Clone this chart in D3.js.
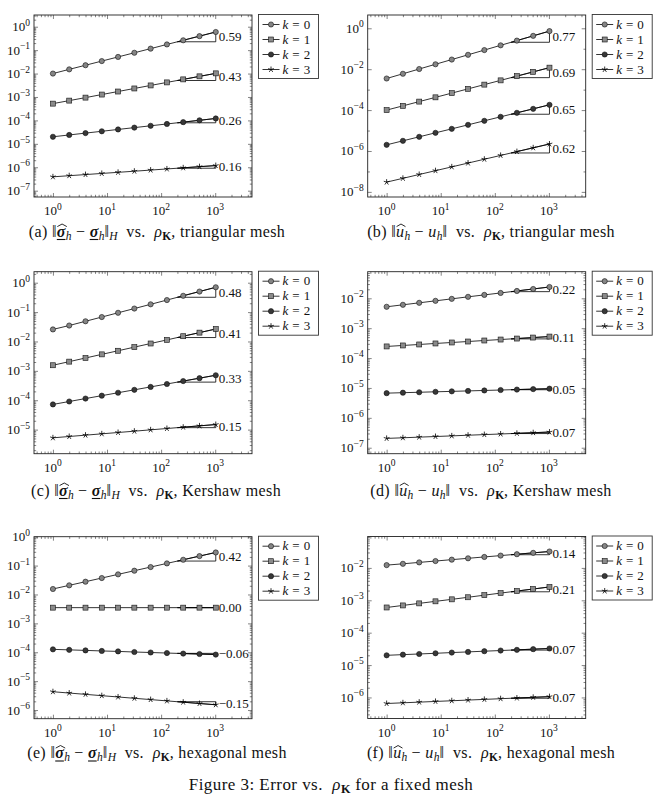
<!DOCTYPE html>
<html><head><meta charset="utf-8">
<script src="https://cdn.jsdelivr.net/npm/d3@7/dist/d3.min.js"></script>
<style>
body{margin:0;background:#fff}
svg{display:block}
text{font-family:"Liberation Serif","Times New Roman",serif;fill:#111}
</style>
</head><body>
<svg id="chart" width="660" height="798"></svg>
<script>
// ---------------- data ----------------
const rho = [1, 2, 4, 8, 16, 32, 64, 128, 256, 512, 1024];
const kLabels = ["0", "1", "2", "3"];
const xTickExps = [0, 1, 2, 3];

// (a) sigma error, triangular mesh
const A0 = [0.0100, 0.0151, 0.0227, 0.0341, 0.0513, 0.0772, 0.116, 0.175, 0.263, 0.396, 0.596];
const A1 = [5.2e-4, 7.0e-4, 9.4e-4, 1.27e-3, 1.71e-3, 2.31e-3, 3.11e-3, 4.19e-3, 5.64e-3, 7.6e-3, 1.02e-2];
const A2 = [2.0e-5, 2.39e-5, 2.87e-5, 3.43e-5, 4.11e-5, 4.92e-5, 5.89e-5, 7.05e-5, 8.44e-5, 1.01e-4, 1.21e-4];
const A3 = [3.9e-7, 4.36e-7, 4.87e-7, 5.44e-7, 6.07e-7, 6.78e-7, 7.57e-7, 8.46e-7, 9.45e-7, 1.06e-6, 1.18e-6];
const slopesA = [0.59, 0.43, 0.26, 0.16];
const yTicksA = [0, -1, -2, -3, -4, -5, -6, -7];

// (b) u error, triangular mesh
const B0 = [3.5e-3, 5.97e-3, 1.02e-2, 1.74e-2, 2.96e-2, 5.05e-2, 8.6e-2, 0.147, 0.250, 0.427, 0.728];
const B1 = [1.0e-4, 1.61e-4, 2.60e-4, 4.2e-4, 6.77e-4, 1.09e-3, 1.76e-3, 2.84e-3, 4.59e-3, 7.4e-3, 1.19e-2];
const B2 = [2.0e-6, 3.14e-6, 4.93e-6, 7.73e-6, 1.21e-5, 1.9e-5, 2.99e-5, 4.69e-5, 7.36e-5, 1.15e-4, 1.81e-4];
const B3 = [3.0e-8, 4.61e-8, 7.09e-8, 1.09e-7, 1.67e-7, 2.57e-7, 3.95e-7, 6.07e-7, 9.33e-7, 1.43e-6, 2.2e-6];
const slopesB = [0.77, 0.69, 0.65, 0.62];
const yTicksB = [0, -2, -4, -6, -8];

// (c) sigma error, Kershaw mesh
const C0 = [0.0257, 0.0349, 0.0487, 0.0679, 0.0947, 0.132, 0.184, 0.257, 0.359, 0.50, 0.70];
const C1 = [1.55e-3, 2.06e-3, 2.74e-3, 3.64e-3, 4.83e-3, 6.42e-3, 8.53e-3, 1.13e-2, 1.51e-2, 2.0e-2, 2.66e-2];
const C2 = [7.2e-5, 9.05e-5, 1.14e-4, 1.43e-4, 1.8e-4, 2.26e-4, 2.84e-4, 3.57e-4, 4.49e-4, 5.64e-4, 7.09e-4];
const C3 = [5.25e-6, 5.83e-6, 6.47e-6, 7.18e-6, 7.97e-6, 8.84e-6, 9.82e-6, 1.09e-5, 1.21e-5, 1.34e-5, 1.49e-5];
const slopesC = [0.48, 0.41, 0.33, 0.15];
const yTicksC = [0, -1, -2, -3, -4, -5];

// (d) u error, Kershaw mesh
const D0 = [5.2e-3, 6.06e-3, 7.06e-3, 8.22e-3, 9.58e-3, 1.12e-2, 1.3e-2, 1.51e-2, 1.76e-2, 2.05e-2, 2.39e-2];
const D1 = [2.45e-4, 2.64e-4, 2.85e-4, 3.08e-4, 3.32e-4, 3.58e-4, 3.87e-4, 4.17e-4, 4.5e-4, 4.86e-4, 5.24e-4];
const D2 = [6.7e-6, 6.94e-6, 7.18e-6, 7.43e-6, 7.69e-6, 7.96e-6, 8.24e-6, 8.53e-6, 8.83e-6, 9.14e-6, 9.46e-6];
const D3 = [2.05e-7, 2.15e-7, 2.26e-7, 2.37e-7, 2.49e-7, 2.62e-7, 2.75e-7, 2.88e-7, 3.03e-7, 3.18e-7, 3.34e-7];
const slopesD = [0.22, 0.11, 0.05, 0.07];
const yTicksD = [-2, -3, -4, -5, -6, -7];

// (e) sigma error, hexagonal mesh
const E0 = [1.55e-2, 2.07e-2, 2.77e-2, 3.71e-2, 4.97e-2, 6.65e-2, 8.9e-2, 0.119, 0.159, 0.213, 0.285];
const E1 = [3.5e-3, 3.5e-3, 3.5e-3, 3.5e-3, 3.5e-3, 3.5e-3, 3.5e-3, 3.5e-3, 3.5e-3, 3.5e-3, 3.5e-3];
const E2 = [1.26e-4, 1.21e-4, 1.16e-4, 1.11e-4, 1.07e-4, 1.02e-4, 9.8e-5, 9.4e-5, 9.0e-5, 8.7e-5, 8.3e-5];
const E3 = [4.3e-6, 3.87e-6, 3.49e-6, 3.14e-6, 2.83e-6, 2.55e-6, 2.3e-6, 2.07e-6, 1.87e-6, 1.68e-6, 1.52e-6];
const slopesE = [0.42, 0.00, -0.06, -0.15];
const yTicksE = [0, -1, -2, -3, -4, -5, -6];

// (f) u error, hexagonal mesh
const F0 = [1.22e-2, 1.34e-2, 1.48e-2, 1.63e-2, 1.8e-2, 1.98e-2, 2.18e-2, 2.4e-2, 2.65e-2, 2.92e-2, 3.21e-2];
const F1 = [6.0e-4, 6.94e-4, 8.03e-4, 9.29e-4, 1.07e-3, 1.24e-3, 1.44e-3, 1.67e-3, 1.93e-3, 2.23e-3, 2.58e-3];
const F2 = [2.0e-5, 2.1e-5, 2.2e-5, 2.31e-5, 2.43e-5, 2.55e-5, 2.68e-5, 2.81e-5, 2.95e-5, 3.1e-5, 3.25e-5];
const F3 = [6.5e-7, 6.83e-7, 7.17e-7, 7.53e-7, 7.9e-7, 8.3e-7, 8.71e-7, 9.15e-7, 9.6e-7, 1.01e-6, 1.06e-6];
const slopesF = [0.14, 0.21, 0.07, 0.07];
const yTicksF = [-2, -3, -4, -5, -6];

// ---------------- layout ----------------
const svg = d3.select("#chart");
const PW = 218, PH = 182;
const xDom = [Math.pow(10, -0.35), Math.pow(10, 3.68)];
const panels = [
  {id:"a", series:[A0,A1,A2,A3], slopes:slopesA, yt:yTicksA, left:34,  top:15,    ydom:[-7.27,0.5],  minorDec:false, cap:"sigma", mesh:"triangular mesh", cx:157, cy:236.5},
  {id:"b", series:[B0,B1,B2,B3], slopes:slopesB, yt:yTicksB, left:367.7, top:15,  ydom:[-8.25,0.65], minorDec:true,  cap:"u",     mesh:"triangular mesh", cx:491, cy:236.5},
  {id:"c", series:[C0,C1,C2,C3], slopes:slopesC, yt:yTicksC, left:34,  top:271.7, ydom:[-5.82,0.375],minorDec:false, cap:"sigma", mesh:"Kershaw mesh",    cx:156, cy:495.5},
  {id:"d", series:[D0,D1,D2,D3], slopes:slopesD, yt:yTicksD, left:367.7, top:271.7, ydom:[-7.2,-1.11],minorDec:false, cap:"u",     mesh:"Kershaw mesh",    cx:491, cy:495.5},
  {id:"e", series:[E0,E1,E2,E3], slopes:slopesE, yt:yTicksE, left:34,  top:536.7, ydom:[-6.3,0.0],   minorDec:false, cap:"sigma", mesh:"hexagonal mesh",  cx:157, cy:758},
  {id:"f", series:[F0,F1,F2,F3], slopes:slopesF, yt:yTicksF, left:367.7, top:536.5, ydom:[-6.65,-1.03],minorDec:false, cap:"u",    mesh:"hexagonal mesh",  cx:491, cy:758}
];

const fills = ["#858585", "#8a8a8a", "#383838", "#000"];

function drawMarker(g, k, px, py, s) {
  s = s || 1;
  if (k === 0 || k === 2) {
    g.append("circle").attr("cx", px).attr("cy", py).attr("r", 2.6 * s)
      .attr("fill", fills[k]).attr("stroke", "#111").attr("stroke-width", 0.6);
  } else if (k === 1) {
    const h = 2.5 * s;
    g.append("rect").attr("x", px - h).attr("y", py - h).attr("width", 2 * h).attr("height", 2 * h)
      .attr("fill", fills[k]).attr("stroke", "#111").attr("stroke-width", 0.6);
  } else {
    let p = "";
    for (let i = 0; i < 5; i++) {
      const a = -Math.PI / 2 + i * 2 * Math.PI / 5;
      p += `M${px},${py}L${px + 3 * s * Math.cos(a)},${py + 3 * s * Math.sin(a)}`;
    }
    g.append("path").attr("d", p).attr("stroke", "#000").attr("stroke-width", 0.8).attr("fill", "none");
  }
}

function powLabel(g, x, y, exp, anchor) {
  const t = g.append("text").attr("x", x).attr("y", y).attr("text-anchor", anchor).style("font-size", "13px");
  t.append("tspan").text("10");
  t.append("tspan").attr("dy", -5.5).style("font-size", "9.5px").text(exp < 0 ? "\u2212" + (-exp) : String(exp));
  return t;
}

// rich text: sequence of pieces positioned left to right, centred at cx
function rich(pieces, cx, base, size, ls) {
  const g = svg.append("g");
  let x = 0;
  pieces.forEach(p => {
    const fs = p.sub ? size * 0.72 : size;
    const t = g.append("text").attr("x", x).attr("y", base + (p.sub ? 3.2 : 0))
      .style("font-size", fs + "px")
      .style("font-style", p.it ? "italic" : "normal")
      .style("font-weight", p.bold ? "bold" : "normal")
      .style("letter-spacing", (p.sub ? 0 : ls) + "px")
      .style("white-space", "pre")
      .text(p.t);
    const w = t.node().getComputedTextLength();
    p.x = x; p.w = w; p.fs = fs;
    x += w + (p.gap || 0);
  });
  const off = cx - x / 2;
  g.attr("transform", `translate(${off},0)`);
  pieces.forEach(p => {
    if (p.hat) {
      const x0 = p.x + 0.5, x1 = p.x + p.w + 1, top = base - size * 0.62;
      g.append("path").attr("d", `M${x0},${top}L${(x0 + x1) / 2},${top - size * 0.16}L${x1},${top}`)
        .attr("fill", "none").attr("stroke", "#111").attr("stroke-width", 0.9);
    }
    if (p.ul) {
      g.append("line").attr("x1", p.x).attr("x2", p.x + p.w - ls).attr("y1", base + 3).attr("y2", base + 3)
        .attr("stroke", "#111").attr("stroke-width", 1.1);
    }
  });
}

panels.forEach(P => {
  const g = svg.append("g").attr("transform", `translate(${P.left},${P.top})`);
  const x = d3.scaleLog().domain(xDom).range([0, PW]);
  const y = d3.scaleLog().domain([Math.pow(10, P.ydom[0]), Math.pow(10, P.ydom[1])]).range([PH, 0]);

  // ticks
  const yMaj = P.yt.map(e => Math.pow(10, e));
  const yMin = [];
  for (let e = Math.floor(P.ydom[0]); e <= Math.ceil(P.ydom[1]); e++) {
    if (P.minorDec) {
      const v = Math.pow(10, e);
      if (!P.yt.includes(e) && e > P.ydom[0] && e < P.ydom[1]) yMin.push(v);
    } else {
      for (let m = 2; m <= 9; m++) {
        const le = e + Math.log10(m);
        if (le > P.ydom[0] && le < P.ydom[1]) yMin.push(m * Math.pow(10, e));
      }
    }
  }
  const xMaj = xTickExps.map(e => Math.pow(10, e));
  const xMin = [];
  for (let e = -1; e <= 3; e++) for (let m = 2; m <= 9; m++) {
    const v = m * Math.pow(10, e);
    if (v > xDom[0] && v < xDom[1]) xMin.push(v);
  }
  const tk = (sel) => sel.call(s => s.select(".domain").remove())
    .call(s => s.selectAll("line").attr("stroke", "#333").attr("stroke-width", 0.6));
  g.append("g").call(d3.axisLeft(y).tickValues(yMaj).tickSize(-4).tickFormat("")).call(tk);
  g.append("g").call(d3.axisLeft(y).tickValues(yMin).tickSize(-2.2).tickFormat("")).call(tk);
  g.append("g").attr("transform", `translate(${PW},0)`).call(d3.axisRight(y).tickValues(yMaj).tickSize(-4).tickFormat("")).call(tk);
  g.append("g").attr("transform", `translate(${PW},0)`).call(d3.axisRight(y).tickValues(yMin).tickSize(-2.2).tickFormat("")).call(tk);
  g.append("g").attr("transform", `translate(0,${PH})`).call(d3.axisBottom(x).tickValues(xMaj).tickSize(-4).tickFormat("")).call(tk);
  g.append("g").attr("transform", `translate(0,${PH})`).call(d3.axisBottom(x).tickValues(xMin).tickSize(-2.2).tickFormat("")).call(tk);
  g.append("g").call(d3.axisTop(x).tickValues(xMaj).tickSize(-4).tickFormat("")).call(tk);
  g.append("g").call(d3.axisTop(x).tickValues(xMin).tickSize(-2.2).tickFormat("")).call(tk);

  // tick labels
  P.yt.forEach(e => powLabel(g, -4, y(Math.pow(10, e)) + 4.5, e, "end"));
  xTickExps.forEach(e => powLabel(g, x(Math.pow(10, e)), PH + 18, e, "middle"));

  // series
  const line = d3.line().x(d => x(d[0])).y(d => y(d[1]));
  P.series.forEach((vals, k) => {
    const pts = rho.map((r, i) => [r, vals[i]]);
    const x1 = rho[rho.length - 1], x0 = 200;
    const yv1 = vals[vals.length - 1];
    const yv0 = yv1 / Math.pow(x1 / x0, P.slopes[k]);
    g.append("path")
      .attr("d", `M${x(x0)},${y(yv0)}L${x(x1)},${y(yv0)}L${x(x1)},${y(yv1)}Z`)
      .attr("fill", "none").attr("stroke", "#000").attr("stroke-width", 0.8);
    g.append("path").datum(pts).attr("d", line)
      .attr("fill", "none").attr("stroke", "#000").attr("stroke-width", 0.8);
    pts.forEach(p => drawMarker(g, k, x(p[0]), y(p[1])));
    g.append("text").attr("x", x(x1) + 3).attr("y", (y(yv0) + y(yv1)) / 2 + 4.5)
      .style("font-size", "13px").text(d3.format(".2f")(P.slopes[k]));
  });

  // frame
  g.append("rect").attr("width", PW).attr("height", PH)
    .attr("fill", "none").attr("stroke", "#222").attr("stroke-width", 0.9);

  // legend
  const L = g.append("g").attr("transform", `translate(${PW + 6.5},-0.5)`);
  L.append("rect").attr("width", 60).attr("height", 64).attr("fill", "#fff")
    .attr("stroke", "#333").attr("stroke-width", 0.9);
  kLabels.forEach((lab, k) => {
    const ly = 10 + 15 * k;
    L.append("line").attr("x1", 4).attr("x2", 21).attr("y1", ly).attr("y2", ly)
      .attr("stroke", "#000").attr("stroke-width", 0.8);
    drawMarker(L, k, 12.5, ly);
    const t = L.append("text").attr("x", 24).attr("y", ly + 4.3).style("font-size", "13px");
    t.append("tspan").style("font-style", "italic").text("k");
    t.append("tspan").attr("dx", 4).text("=");
    t.append("tspan").attr("dx", 4).text(lab);
  });

  // caption
  const pre = `(${P.id}) `;
  let pieces;
  if (P.cap === "sigma") {
    pieces = [
      {t: pre}, {t: "\u2016"},
      {t: "\u03c3", it: true, bold: true, hat: true, ul: true},
      {t: "h", it: true, sub: true},
      {t: " \u2212 "},
      {t: "\u03c3", it: true, bold: true, ul: true},
      {t: "h", it: true, sub: true},
      {t: "\u2016"},
      {t: "H", it: true, sub: true},
      {t: "  vs.  "},
      {t: "\u03c1", it: true},
      {t: "K", bold: true, sub: true},
      {t: ", " + P.mesh}
    ];
  } else {
    pieces = [
      {t: pre}, {t: "\u2016"},
      {t: "u", it: true, hat: true},
      {t: "h", it: true, sub: true},
      {t: " \u2212 "},
      {t: "u", it: true},
      {t: "h", it: true, sub: true},
      {t: "\u2016"},
      {t: "  vs.  "},
      {t: "\u03c1", it: true},
      {t: "K", bold: true, sub: true},
      {t: ", " + P.mesh}
    ];
  }
  rich(pieces, P.cx, P.cy, 16, 0.35);
});

// figure caption
rich([
  {t: "Figure 3: Error vs.  "},
  {t: "\u03c1", it: true},
  {t: "K", bold: true, sub: true},
  {t: " for a fixed mesh"}
], 331, 790, 17, 0.45);
</script>
</body></html>
